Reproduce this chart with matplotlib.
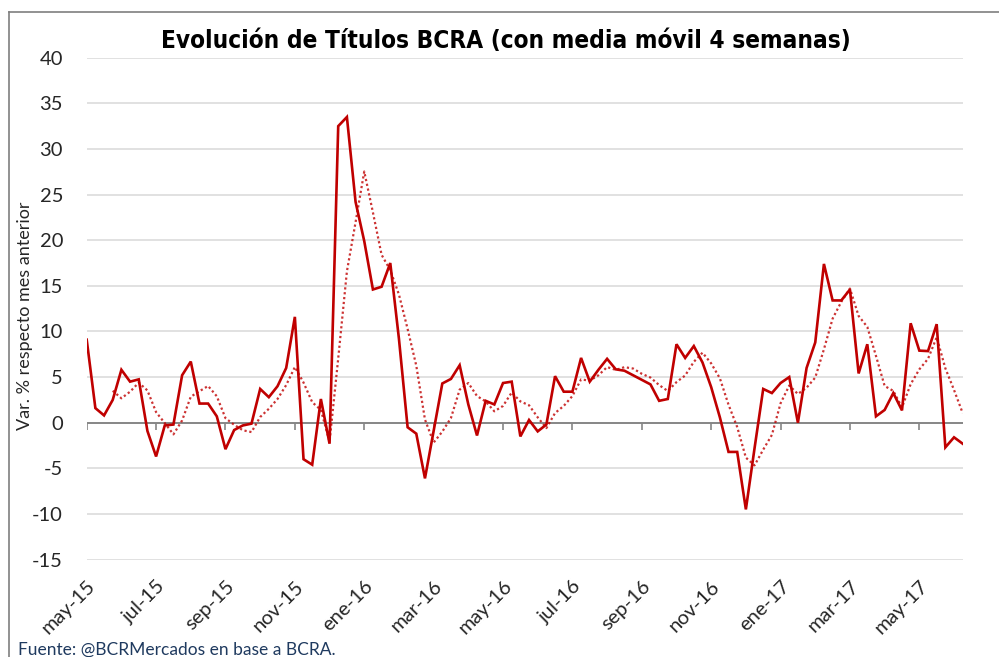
import numpy as np
import pandas as pd
import matplotlib
matplotlib.use("Agg")
import matplotlib.pyplot as plt
from matplotlib.lines import Line2D

plt.rcParams["axes.unicode_minus"] = False

RED = "#C00000"
GRID = "#D9D9D9"
AXIS = "#868686"
TXT = "#262626"

# variacion % respecto mes anterior, 4 observaciones por mes (may-15 a jun-17)
valores = [
    9.1, 1.6, 0.8, 2.5, 5.8, 4.5, 4.75, -0.9, -3.7, -0.3,
    -0.2, 5.2, 6.7, 2.1, 2.1, 0.7, -2.9, -0.8, -0.3, -0.1,
    3.7, 2.8, 4.0, 6.0, 11.6, -4.0, -4.6, 2.6, -2.3, 32.5,
    33.5, 24.2, 19.9, 14.6, 14.9, 17.5, 9.2, -0.5, -1.2, -6.1,
    -0.9, 4.3, 4.8, 6.3, 2.0, -1.4, 2.4, 2.0, 4.35, 4.5,
    -1.5, 0.3, -0.95, -0.2, 5.1, 3.4, 3.4, 7.1, 4.5, 5.8,
    7.0, 5.85, 5.7, 5.2, 4.7, 4.2, 2.4, 2.6, 8.6, 7.1,
    8.4, 6.6, 3.9, 0.6, -3.2, -3.2, -9.5, -2.8, 3.7, 3.25,
    4.35, 5.0, 0.0, 6.0, 8.8, 17.4, 13.4, 13.4, 14.6, 5.4,
    8.6, 0.7, 1.4, 3.25, 1.35, 10.9, 7.9, 7.85, 10.8, -2.7,
    -1.6, -2.3,
]
meses = ["may-15", "jul-15", "sep-15", "nov-15", "ene-16", "mar-16", "may-16",
         "jul-16", "sep-16", "nov-16", "ene-17", "mar-17", "may-17"]
paso_etiqueta = 8

serie = pd.Series(valores)
media_movil = serie.rolling(4).mean()
x = np.arange(len(serie))
ticks = np.arange(0, paso_etiqueta * len(meses), paso_etiqueta)

fig = plt.figure(figsize=(9.99, 6.57), dpi=100)
ax = fig.add_axes([86.7 / 999, 1 - 559.6 / 657, (962.7 - 86.7) / 999, (559.6 - 57.7) / 657])

ax.set_ylim(-15, 40)
ax.set_xlim(0, len(serie) - 1)
ax.set_yticks(np.arange(-15, 41, 5))
for yv in np.arange(-15, 41, 5):
    if yv != 0:
        ax.axhline(yv, color=GRID, lw=1.1, zorder=1)
ax.axhline(0, color=AXIS, lw=1.4, zorder=2)
ax.vlines(ticks, -0.8, 0, color=AXIS, lw=1.2, zorder=2)

ax.plot(x, serie, color=RED, lw=1.9, zorder=4, solid_joinstyle="miter")
ax.plot(x, media_movil, color=RED, lw=1.6, ls=(0, (1, 1.2)), alpha=0.8, zorder=3)

for s in ax.spines.values():
    s.set_visible(False)

ax.set_xticks(ticks)
ax.set_xticklabels(meses, rotation=45, ha="right", va="top", rotation_mode="anchor",
                   fontsize=14.5, family="Lato", color=TXT)
ax.tick_params(axis="x", length=0, pad=13)
ax.tick_params(axis="y", length=0, pad=17, labelsize=14.5, labelcolor=TXT)
for lbl in ax.get_yticklabels():
    lbl.set_family("Lato")

fig.text(25 / 999, 1 - 316 / 657, "Var. % respecto mes anterior", rotation=90,
         ha="center", va="center", fontsize=13, family="Lato", color=TXT)

fig.text(506 / 999, 1 - 41 / 657, "Evolución de Títulos BCRA (con media móvil 4 semanas)",
         ha="center", va="center", fontsize=17.5, fontweight="bold", fontstretch="condensed",
         family="DejaVu Sans", color="black")

fig.text(18 / 999, 1 - 650 / 657, "Fuente: @BCRMercados en base a BCRA.",
         ha="left", va="center", fontsize=12.5, family="Lato", color="#1F3A5F")

# borde del grafico (superior e izquierdo)
fig.add_artist(Line2D([9 / 999, 9 / 999], [0, 1 - 12 / 657], transform=fig.transFigure,
                      color="#7F7F7F", lw=1.2))
fig.add_artist(Line2D([9 / 999, 1], [1 - 12 / 657, 1 - 12 / 657], transform=fig.transFigure,
                      color="#7F7F7F", lw=1.2))

fig.savefig("out.png", dpi=100)
